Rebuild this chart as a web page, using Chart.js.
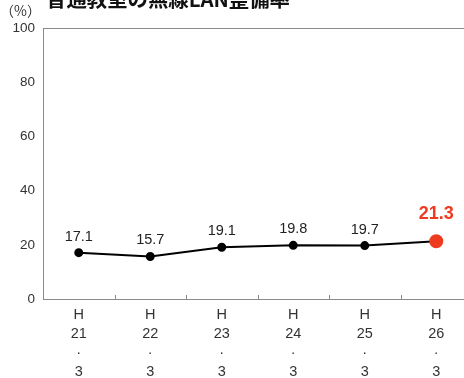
<!DOCTYPE html>
<html><head><meta charset="utf-8">
<script src="https://cdn.jsdelivr.net/npm/chart.js@4"></script>
<style>
html,body{margin:0;padding:0;background:#fff;overflow:hidden;width:464px;height:378px;}
#wrap{position:absolute;left:0;top:0;width:480px;height:378px;}
</style></head>
<body>
<div id="wrap"><canvas id="c" width="480" height="378"></canvas></div>
<script>
const titleText = '普通教室の無線LAN整備率';
const unitLabel = '（%）';
const eraLabels = ['21','22','23','24','25','26'];
const monthLabels = ['3','3','3','3','3','3'];
const rates = [17.1, 15.7, 19.1, 19.8, 19.7, 21.3];
const yTicks = [0, 20, 40, 60, 80, 100];

const categories = eraLabels.map((e, i) => ['H', e, '·', monthLabels[i]]);
const last = rates.length - 1;
const RED = '#EE3B1F';

const decor = {
  id: 'decor',
  afterDraw(chart) {
    const ctx = chart.ctx, a = chart.chartArea;
    ctx.save();
    ctx.strokeStyle = '#8a8a8a';
    ctx.lineWidth = 1;
    ctx.strokeRect(a.left + 0.5, a.top + 0.5, a.right - a.left, a.bottom - a.top);
    const xs = chart.scales.x;
    for (let i = 1; i < categories.length; i++) {
      const x = Math.round((xs.getPixelForTick(i - 1) + xs.getPixelForTick(i)) / 2) + 0.5;
      ctx.beginPath(); ctx.moveTo(x, a.bottom); ctx.lineTo(x, a.bottom - 4); ctx.stroke();
    }
    ctx.fillStyle = '#111';
    ctx.font = 'bold 20.4px "Noto Sans CJK JP"';
    ctx.textAlign = 'left';
    ctx.textBaseline = 'alphabetic';
    ctx.fillText(titleText, 46, 7);
    ctx.fillStyle = '#333';
    ctx.font = '14px "Noto Sans CJK JP"';
    ctx.textBaseline = 'middle';
    ctx.fillText(unitLabel, 0, 11);
    const meta = chart.getDatasetMeta(0);
    ctx.textAlign = 'center';
    ctx.textBaseline = 'middle';
    meta.data.forEach((pt, i) => {
      if (i === last) {
        ctx.fillStyle = RED;
        ctx.font = 'bold 18px "Liberation Sans"';
        ctx.fillText(rates[i].toFixed(1), pt.x, pt.y - 27);
      } else {
        ctx.fillStyle = '#222';
        ctx.font = '14.5px "Liberation Sans"';
        ctx.fillText(rates[i].toFixed(1), pt.x, pt.y - 16);
      }
    });
    ctx.restore();
  }
};

new Chart(document.getElementById('c'), {
  type: 'line',
  data: {
    labels: categories,
    datasets: [{
      data: rates,
      borderColor: '#000',
      borderWidth: 2,
      pointBackgroundColor: rates.map((v, i) => i === last ? RED : '#000'),
      pointBorderColor: rates.map((v, i) => i === last ? RED : '#000'),
      pointRadius: rates.map((v, i) => i === last ? 6 : 3.5),
      tension: 0
    }]
  },
  options: {
    responsive: false,
    animation: false,
    devicePixelRatio: 1,
    layout: { padding: { top: 28, right: 5, left: 0, bottom: 0 } },
    plugins: { legend: { display: false }, tooltip: { enabled: false }, title: { display: false } },
    scales: {
      x: {
        offset: true,
        grid: { display: false, drawTicks: false },
        border: { display: false },
        ticks: {
          color: '#333', padding: 7, maxRotation: 0, autoSkip: false,
          font: { family: '"Liberation Sans"', size: 14.5, lineHeight: 1.31 }
        },
        afterFit(s) { s.height = 79; }
      },
      y: {
        min: 0, max: 100,
        afterBuildTicks(s) { s.ticks = yTicks.map(v => ({ value: v })); },
        grid: { display: false, drawTicks: false },
        border: { display: false },
        ticks: { color: '#333', padding: 8, font: { family: '"Liberation Sans"', size: 13.5 } },
        afterFit(s) { s.width = 43; }
      }
    }
  },
  plugins: [decor]
});
</script>
</body></html>
